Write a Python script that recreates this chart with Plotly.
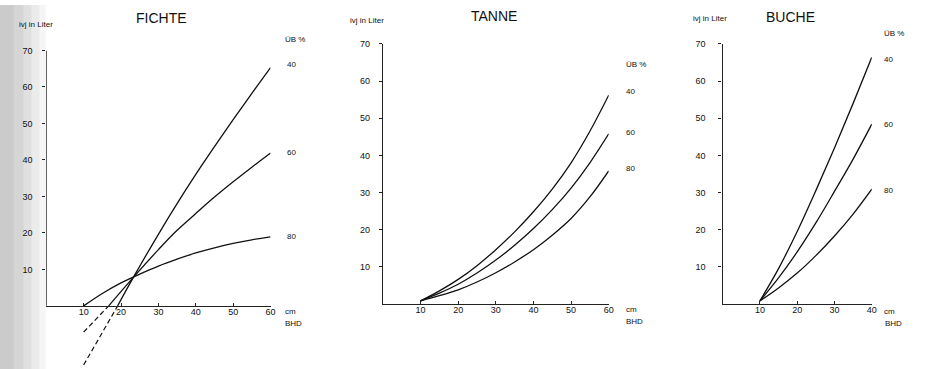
import plotly.graph_objects as go

W, H = 928, 369

# ---------------- data ----------------
ub_labels = ["40", "60", "80"]

# FICHTE
fichte_x40 = [19.1, 23.3, 30.0, 35.0, 40.0, 45.0, 50.0, 55.0, 60.0]
fichte_y40 = [0.0, 7.8, 19.6, 28.0, 36.0, 43.6, 51.0, 58.2, 65.3]
fichte_dash40_x = [10.0, 19.1]
fichte_dash40_y = [-16.2, 0.0]
fichte_x60 = [16.7, 23.3, 30.0, 35.0, 40.0, 45.0, 50.0, 55.0, 60.0]
fichte_y60 = [0.0, 7.8, 15.4, 20.7, 25.3, 29.8, 34.0, 38.0, 41.9]
fichte_dash60_x = [10.0, 16.7]
fichte_dash60_y = [-7.2, 0.0]
fichte_x80 = [10.0, 15.0, 20.0, 25.0, 30.0, 35.0, 40.0, 45.0, 50.0, 55.0, 60.0]
fichte_y80 = [0.0, 3.4, 6.3, 8.7, 10.9, 12.8, 14.5, 15.9, 17.1, 18.1, 18.9]

# TANNE
tanne_x = [10, 15, 20, 25, 30, 35, 40, 45, 50, 55, 60]
tanne_y40 = [0.8, 3.5, 6.6, 10.3, 14.6, 19.4, 24.8, 30.9, 38.0, 46.5, 56.2]
tanne_y60 = [0.8, 2.9, 5.3, 8.3, 11.8, 15.8, 20.3, 25.4, 31.2, 38.0, 45.8]
tanne_y80 = [0.8, 2.2, 3.8, 5.9, 8.4, 11.3, 14.6, 18.5, 23.0, 28.8, 35.8]

# BUCHE
buche_x = [10, 15, 20, 25, 30, 35, 40]
buche_y40 = [0.8, 9.5, 19.5, 30.5, 42.0, 54.0, 66.4]
buche_y60 = [0.8, 7.0, 14.0, 21.8, 30.3, 39.0, 48.4]
buche_y80 = [0.8, 4.3, 8.3, 13.0, 18.3, 24.2, 30.9]

x_ticks_60 = [10, 20, 30, 40, 50, 60]
x_ticks_40 = [10, 20, 30, 40]
y_ticks = [10, 20, 30, 40, 50, 60, 70]

titles = ["FICHTE", "TANNE", "BUCHE"]
y_title = "ivj in Liter"
ub_title = "ÜB %"
x_unit = "cm"
x_title = "BHD"

# ---------------- helpers ----------------
def px(x):
    return x / W

def py(y):
    return 1 - y / H

FONT = "Liberation Sans"
INK = "#111111"
line_style = dict(color=INK, width=1.3, shape="spline", smoothing=1.0)

fig = go.Figure()

def add_curve(x, y, xa, ya, dash=None):
    ls = dict(line_style)
    if dash:
        ls = dict(color=INK, width=1.2, dash=dash)
    fig.add_trace(go.Scatter(x=x, y=y, mode="lines", line=ls, xaxis=xa, yaxis=ya,
                             hoverinfo="skip", showlegend=False))

add_curve(fichte_x40, fichte_y40, "x", "y")
add_curve(fichte_x60, fichte_y60, "x", "y")
add_curve(fichte_x80, fichte_y80, "x", "y")
add_curve(fichte_dash40_x, fichte_dash40_y, "x", "y", dash="5px,3px")
add_curve(fichte_dash60_x, fichte_dash60_y, "x", "y", dash="5px,3px")

add_curve(tanne_x, tanne_y40, "x2", "y2")
add_curve(tanne_x, tanne_y60, "x2", "y2")
add_curve(tanne_x, tanne_y80, "x2", "y2")

add_curve(buche_x, buche_y40, "x3", "y3")
add_curve(buche_x, buche_y60, "x3", "y3")
add_curve(buche_x, buche_y80, "x3", "y3")

tickfont = dict(family=FONT, size=9, color=INK)
axis_common = dict(showgrid=False, zeroline=False, linecolor="#222222", linewidth=1.4,
                   tickcolor="#222222", tickwidth=1, tickfont=tickfont)

layout = dict(
    width=W, height=H,
    margin=dict(l=0, r=0, t=0, b=0),
    paper_bgcolor="white", plot_bgcolor="rgba(0,0,0,0)",
    showlegend=False,
    # FICHTE
    xaxis=dict(domain=[px(46.5), px(272)], range=[0, 60], anchor="free", position=py(305),
               showline=True, tickvals=x_ticks_60, ticks="inside", ticklen=3,
               ticklabelstandoff=-3, **axis_common),
    yaxis=dict(domain=[py(367.9), py(46)], range=[-17, 70], anchor="x", showline=False,
               tickvals=y_ticks, ticks="outside", ticklen=3, ticklabelstandoff=8, **axis_common),
    # TANNE
    xaxis2=dict(domain=[px(385), px(612)], range=[0, 60], anchor="y2", showline=True,
                tickvals=x_ticks_60, ticks="inside", ticklen=3, ticklabelstandoff=-3,
                **axis_common),
    yaxis2=dict(domain=[py(303), py(39.5)], range=[0, 70], anchor="x2", showline=True,
                tickvals=y_ticks, ticks="outside", ticklen=3, ticklabelstandoff=7, **axis_common),
    # BUCHE
    xaxis3=dict(domain=[px(726.5), px(876.5)], range=[0, 40], anchor="y3", showline=True,
                tickvals=x_ticks_40, ticks="inside", ticklen=3, ticklabelstandoff=-3,
                **axis_common),
    yaxis3=dict(domain=[py(303), py(39.5)], range=[0, 70], anchor="x3", showline=True,
                tickvals=y_ticks, ticks="outside", ticklen=3, ticklabelstandoff=11, **axis_common),
)
fig.update_layout(**layout)

shapes = []
# scanned grey stipple on the left edge
for x0, x1, col in [(0, 14, "#cbcbcb"), (14, 24, "#d5d5d5"), (24, 32, "#e0e0e0"),
                    (32, 40, "#ebebeb"), (40, 46, "#f5f5f5")]:
    shapes.append(dict(type="rect", xref="paper", yref="paper", x0=px(x0), x1=px(x1),
                       y0=0, y1=1, fillcolor=col, line=dict(width=0), layer="below"))
# FICHTE y axis line (from 0 to 70 only)
shapes.append(dict(type="line", xref="x", yref="y", x0=0, x1=0, y0=0, y1=70,
                   line=dict(color="#222222", width=1.4)))
fig.update_layout(shapes=shapes)

ann = []

def text(x, y, s, size=8, xanchor="left"):
    ann.append(dict(x=px(x), y=py(y), xref="paper", yref="paper", text=s, showarrow=False,
                    xanchor=xanchor, yanchor="middle",
                    font=dict(family=FONT, size=size, color=INK)))

# titles
text(162, 13, titles[0], size=14, xanchor="center")
text(497, 11, titles[1], size=14, xanchor="center")
text(795, 12, titles[2], size=14, xanchor="center")
# y-axis titles
text(17, 20, y_title, size=8)
text(350, 16, y_title, size=8)
text(695, 14, y_title, size=8)

# FICHTE labels
text(285, 35, ub_title)
for lab, yy in zip(ub_labels, [60, 150, 235]):
    text(287, yy, lab)
text(285, 311, x_unit)
text(285, 323, x_title)

# TANNE labels
text(627, 60, ub_title)
for lab, yy in zip(ub_labels, [88, 129, 166]):
    text(627, yy, lab)
text(627, 309, x_unit)
text(627, 321, x_title)

# BUCHE labels
text(887, 29, ub_title)
for lab, yy in zip(ub_labels, [55, 121, 188]):
    text(887, yy, lab)
text(887, 311, x_unit)
text(888, 323, x_title)

fig.update_layout(annotations=ann)

fig.write_html("out.html", post_script="document.body.style.margin='0';",
               config={"displayModeBar": False})
